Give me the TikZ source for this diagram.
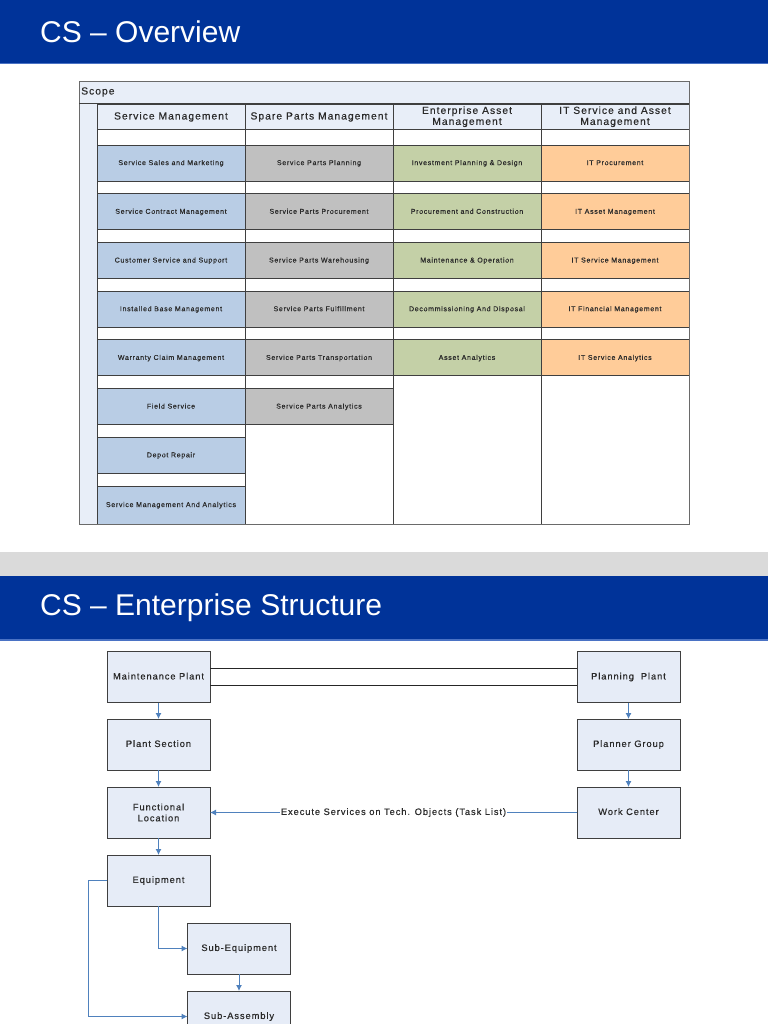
\documentclass[tikz,border=0pt]{standalone}
\usepackage{fontspec}
\setmainfont{Liberation Sans}
\newfontfamily\trackfont[LetterSpace=10,FakeBold=0.35]{Liberation Sans}
\usetikzlibrary{arrows.meta}
\definecolor{hdrblue}{HTML}{003399}
\definecolor{hdrline}{HTML}{4A72C4}
\definecolor{bandgray}{HTML}{DADADA}
\definecolor{scopefill}{HTML}{E8EEF8}
\definecolor{cellborder}{HTML}{3F3F3F}
\definecolor{tblborder}{HTML}{6A6A6A}
\definecolor{txtgray}{HTML}{2A2A2A}
\definecolor{cblue}{HTML}{B9CDE5}
\definecolor{cgray}{HTML}{C0C0C0}
\definecolor{cgreen}{HTML}{C4D0A7}
\definecolor{corange}{HTML}{FFCC99}
\definecolor{boxfill}{HTML}{E6ECF7}
\definecolor{arrblue}{HTML}{4F81BD}
\begin{document}
\begin{tikzpicture}[x=1pt,y=-1pt,
  title/.style={anchor=west, text=white, inner sep=0, font=\fontsize{30}{30}\selectfont},
  cell/.style={draw=cellborder, line width=0.8pt, minimum width=148pt, minimum height=36pt,
    inner sep=0, outer sep=0, anchor=north west, text=txtgray, align=center,
    font=\trackfont\fontsize{7}{8.5}\selectfont},
  oneline/.style={text height=5.2pt, text depth=1pt},
  tcell/.style={cell, oneline},
  hcell/.style={cell, fill=scopefill, minimum height=25.5pt, font=\trackfont\fontsize{10.3}{11}\selectfont},
  spacer/.style={cell, fill=white, minimum height=12.7pt},
  ebox/.style={draw=cellborder, line width=0.9pt, fill=boxfill, minimum width=103pt, minimum height=51pt,
    inner sep=1pt, outer sep=0, align=center, text=txtgray, font=\trackfont\fontsize{9.3}{11}\selectfont},
  eone/.style={ebox, text height=6.8pt, text depth=1.9pt},
  arr/.style={draw=arrblue, line width=1pt, -{Latex[length=6pt,width=6pt]}},
  dline/.style={draw=black!85, line width=0.9pt}
]
\useasboundingbox (0,0) rectangle (768,1024);
\fill[white] (0,0) rectangle (768,1024);
% ---------- header 1
\fill[hdrblue] (0,0) rectangle (768,63);
\fill[hdrline] (0,63) rectangle (768,64.5);
\node[title] (t1) at (40,32) {CS -- Overview};
% ---------- separator band and header 2
\fill[bandgray] (0,552) rectangle (768,576);
\fill[hdrblue] (0,576) rectangle (768,639);
\fill[hdrline] (0,639) rectangle (768,640.5);
\node[title] (t2) at (40,608) {CS -- Enterprise Structure};
% ---------- table frame
\fill[scopefill] (79,81) rectangle (689,524);
\fill[white] (97,104) rectangle (689,524);
\node[anchor=west, inner sep=0, text=txtgray, font=\trackfont\fontsize{10.3}{11}\selectfont] (scope) at (81,92) {Scope};
% header cells
\node[hcell, text height=7.5pt, text depth=2pt] (h1) at (97,104) {Service Management};
\node[hcell, text height=7.5pt, text depth=2pt] (h2) at (245,104) {Spare Parts Management};
\node[hcell] (h3) at (393,104) {Enterprise Asset\\Management};
\node[hcell] (h4) at (541,104) {IT Service and Asset\\Management};
% spacers above row 1
\foreach \c/\x in {1/97,2/245,3/393,4/541}{
  \node[spacer, minimum height=15.5pt] (s0\c) at (\x,129.5) {};
}
% column 1
\node[tcell, fill=cblue] (a1) at (97,145) {Service Sales and Marketing};
\node[tcell, fill=cblue] (a2) at (97,193.7) {Service Contract Management};
\node[tcell, fill=cblue] (a3) at (97,242.4) {Customer Service and Support};
\node[tcell, fill=cblue] (a4) at (97,291.1) {Installed Base Management};
\node[tcell, fill=cblue] (a5) at (97,339.8) {Warranty Claim Management};
\node[tcell, fill=cblue] (a6) at (97,388.5) {Field Service};
\node[tcell, fill=cblue] (a7) at (97,437.2) {Depot Repair};
\node[tcell, fill=cblue, minimum height=38.1pt] (a8) at (97,485.9) {Service Management And Analytics};
% column 2
\node[tcell, fill=cgray] (b1) at (245,145) {Service Parts Planning};
\node[tcell, fill=cgray] (b2) at (245,193.7) {Service Parts Procurement};
\node[tcell, fill=cgray] (b3) at (245,242.4) {Service Parts Warehousing};
\node[tcell, fill=cgray] (b4) at (245,291.1) {Service Parts Fulfillment};
\node[tcell, fill=cgray] (b5) at (245,339.8) {Service Parts Transportation};
\node[tcell, fill=cgray] (b6) at (245,388.5) {Service Parts Analytics};
% column 3
\node[tcell, fill=cgreen] (c1) at (393,145) {Investment Planning \& Design};
\node[tcell, fill=cgreen] (c2) at (393,193.7) {Procurement and Construction};
\node[tcell, fill=cgreen] (c3) at (393,242.4) {Maintenance \& Operation};
\node[tcell, fill=cgreen] (c4) at (393,291.1) {Decommissioning And Disposal};
\node[tcell, fill=cgreen] (c5) at (393,339.8) {Asset Analytics};
\node[cell, fill=white, minimum height=148.2pt] (c6) at (393,375.8) {};
% column 4
\node[tcell, fill=corange] (d1) at (541,145) {IT Procurement};
\node[tcell, fill=corange] (d2) at (541,193.7) {IT Asset Management};
\node[tcell, fill=corange] (d3) at (541,242.4) {IT Service Management};
\node[tcell, fill=corange] (d4) at (541,291.1) {IT Financial Management};
\node[tcell, fill=corange] (d5) at (541,339.8) {IT Service Analytics};
\node[cell, fill=white, minimum height=148.2pt] (d6) at (541,375.8) {};
% spacers between rows
\foreach \r/\y in {1/181,2/229.7,3/278.4,4/327.1}{
  \foreach \c/\x in {1/97,2/245,3/393,4/541}{
    \node[spacer] (s\r\c) at (\x,\y) {};
  }
}
\foreach \c/\x in {1/97,2/245}{ \node[spacer] (s5\c) at (\x,375.8) {}; }
\node[spacer] (s61) at (97,424.5) {};
\node[spacer] (s71) at (97,473.2) {};
% outer frame
\draw[tblborder, line width=0.8pt] (79,81) rectangle (689,524);
\draw[cellborder, line width=1.6pt] (79,103.5) -- (689,103.5);
% ---------- enterprise structure
\node[eone] (mp) at (158.5,677) {Maintenance Plant};
\node[eone] (pp) at (628.5,677) {Planning\ \ Plant};
\node[eone] (ps) at (158.5,744.5) {Plant Section};
\node[eone] (pg) at (628.5,744.5) {Planner Group};
\node[ebox] (fl) at (158.5,812.5) {Functional\\Location};
\node[eone] (wc) at (628.5,812.5) {Work Center};
\node[eone] (eq) at (158.5,880.5) {Equipment};
\node[eone] (se) at (239,948.5) {Sub-Equipment};
\node[eone] (sa) at (239,1016.5) {Sub-Assembly};
\draw[dline] ([yshift=8.5pt]mp.east) -- ([yshift=8.5pt]pp.west);
\draw[dline] ([yshift=-8.5pt]mp.east) -- ([yshift=-8.5pt]pp.west);
\draw[arr] (mp) -- (ps);
\draw[arr] (ps) -- (fl);
\draw[arr] (fl) -- (eq);
\draw[arr] (pp) -- (pg);
\draw[arr] (pg) -- (wc);
\draw[arr] (wc) -- node[fill=white, inner sep=0.5pt, text=txtgray, text height=6.8pt, text depth=1.9pt, font=\trackfont\fontsize{9.3}{11}\selectfont] (lbl) {Execute Services on Tech. Objects (Task List)} (fl);
\draw[arr] (eq.south) |- (se.west);
\draw[arr] (se) -- (sa);
\draw[arr] (eq.west) -- ++(-18.5,0) |- (sa.west);
\end{tikzpicture}
\end{document}
